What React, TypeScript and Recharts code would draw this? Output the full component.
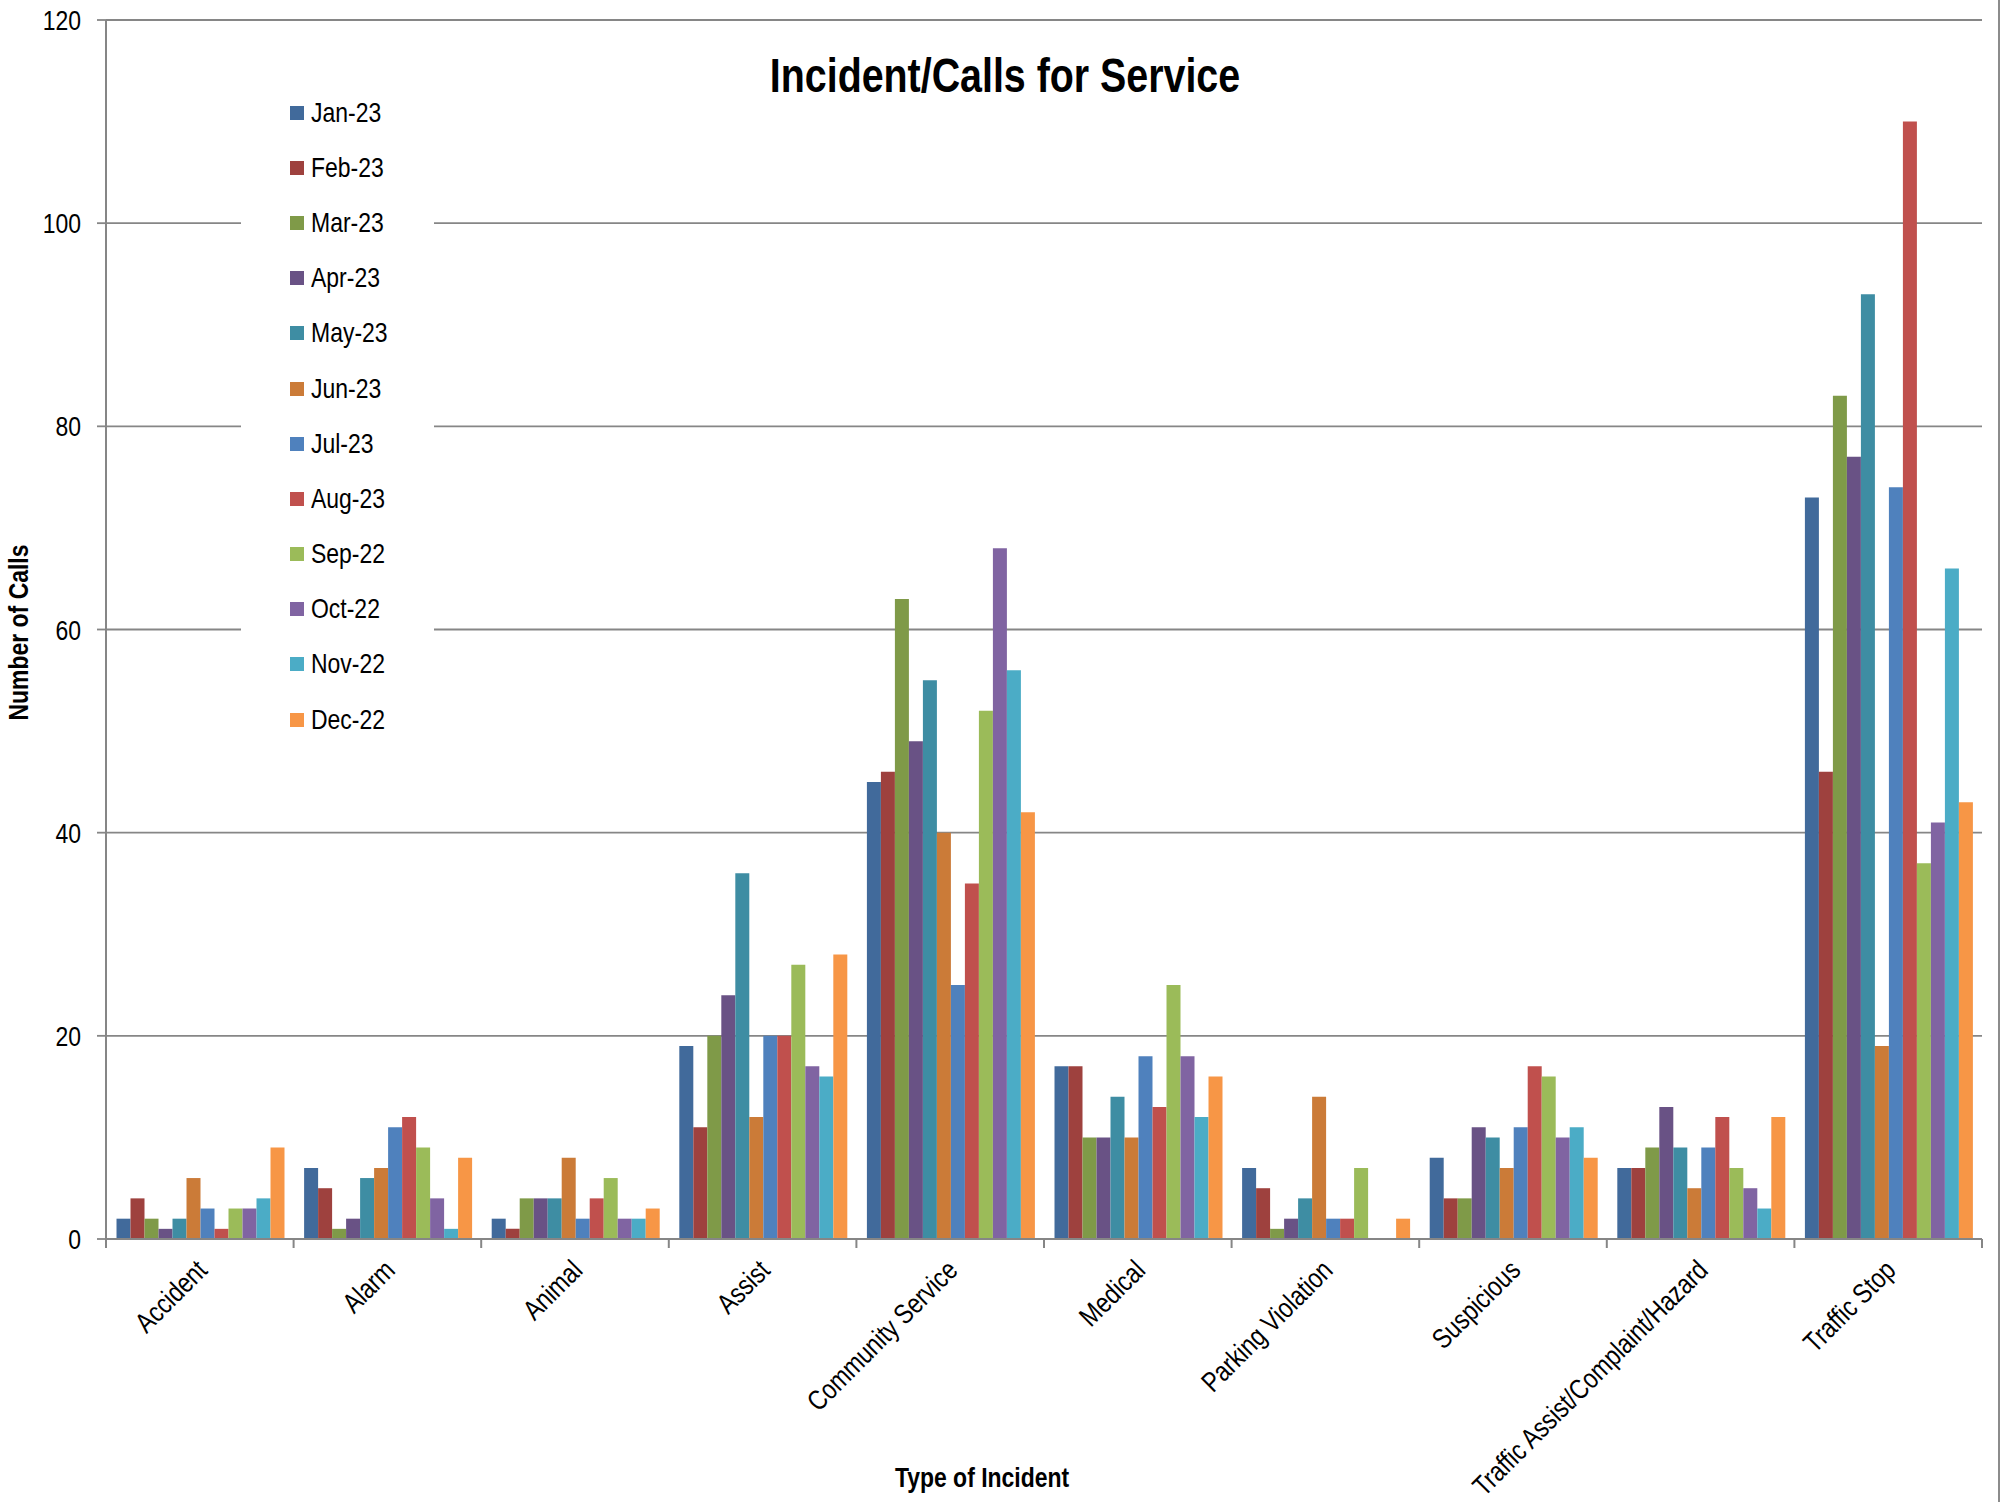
import React from "react";
import {
  BarChart, Bar, XAxis, YAxis, CartesianGrid, Label,
} from "recharts";

const categories = [
  "Accident", "Alarm", "Animal", "Assist", "Community Service",
  "Medical", "Parking Violation", "Suspicious",
  "Traffic Assist/Complaint/Hazard", "Traffic Stop",
];

// one array per month, in category order
const jan23 = [2, 7, 2, 19, 45, 17, 7, 8, 7, 73];
const feb23 = [4, 5, 1, 11, 46, 17, 5, 4, 7, 46];
const mar23 = [2, 1, 4, 20, 63, 10, 1, 4, 9, 83];
const apr23 = [1, 2, 4, 24, 49, 10, 2, 11, 13, 77];
const may23 = [2, 6, 4, 36, 55, 14, 4, 10, 9, 93];
const jun23 = [6, 7, 8, 12, 40, 10, 14, 7, 5, 19];
const jul23 = [3, 11, 2, 20, 25, 18, 2, 11, 9, 74];
const aug23 = [1, 12, 4, 20, 35, 13, 2, 17, 12, 110];
const sep22 = [3, 9, 6, 27, 52, 25, 7, 16, 7, 37];
const oct22 = [3, 4, 2, 17, 68, 18, 0, 10, 5, 41];
const nov22 = [4, 1, 2, 16, 56, 12, 0, 11, 3, 66];
const dec22 = [9, 8, 3, 28, 42, 16, 2, 8, 12, 43];

const yTicks = [0, 20, 40, 60, 80, 100, 120];

const series = [
  { key: "Jan-23", values: jan23, color: "#416A9B" },
  { key: "Feb-23", values: feb23, color: "#9E413E" },
  { key: "Mar-23", values: mar23, color: "#7F9A48" },
  { key: "Apr-23", values: apr23, color: "#695285" },
  { key: "May-23", values: may23, color: "#3E8DA3" },
  { key: "Jun-23", values: jun23, color: "#CB7B38" },
  { key: "Jul-23", values: jul23, color: "#4F81BD" },
  { key: "Aug-23", values: aug23, color: "#C0504D" },
  { key: "Sep-22", values: sep22, color: "#9BBB59" },
  { key: "Oct-22", values: oct22, color: "#8064A2" },
  { key: "Nov-22", values: nov22, color: "#4BACC6" },
  { key: "Dec-22", values: dec22, color: "#F79646" },
];

const data = categories.map((name, i) => {
  const row: Record<string, string | number> = { name };
  series.forEach((s) => { row[s.key] = s.values[i]; });
  return row;
});

// no narrow font installed, so squeeze Liberation Sans horizontally
const FONT = '"Liberation Sans", Arial, sans-serif';
const SX = 0.82;
const AXIS = "#868686";

// eslint-disable-next-line @typescript-eslint/no-explicit-any
function CategoryTick({ x, y, payload, index, width, visibleTicksCount }: any) {
  const band = width / (visibleTicksCount || categories.length);
  const left = x - band / 2;
  return (
    <g>
      <line x1={left} y1={y} x2={left} y2={y + 9} stroke={AXIS} strokeWidth={2} />
      {index === categories.length - 1 && (
        <line x1={x + band / 2} y1={y} x2={x + band / 2} y2={y + 9} stroke={AXIS} strokeWidth={2} />
      )}
      <text
        transform={`translate(${x + 9},${y + 33}) rotate(-45) scale(${SX},1)`}
        textAnchor="end"
        fontSize={28}
        fontFamily={FONT}
        fill="#000"
      >
        {payload.value}
      </text>
    </g>
  );
}

// eslint-disable-next-line @typescript-eslint/no-explicit-any
function ValueTick({ x, y, payload }: any) {
  return (
    <text
      transform={`translate(${x},${y}) scale(${SX},1)`}
      textAnchor="end"
      dy="0.36em"
      fontSize={28}
      fontFamily={FONT}
      fill="#000"
    >
      {payload.value}
    </text>
  );
}

function LegendBox() {
  return (
    <div
      style={{
        position: "absolute", left: 241, top: 85, width: 193, height: 665,
        background: "#fff",
      }}
    >
      {series.map((s) => (
        <div
          key={s.key}
          style={{ height: 55.2, display: "flex", alignItems: "center", paddingLeft: 49 }}
        >
          <span style={{ width: 14, height: 14, background: s.color, display: "inline-block" }} />
          <span
            style={{
              marginLeft: 7, fontFamily: FONT, fontSize: 28, color: "#000",
              display: "inline-block", transform: `scaleX(${SX})`, transformOrigin: "0 50%",
            }}
          >
            {s.key}
          </span>
        </div>
      ))}
    </div>
  );
}

export default function App() {
  return (
    <div
      style={{
        position: "absolute", left: 0, top: 0, width: 2007, height: 1502,
        background: "#fff", overflow: "hidden",
      }}
    >
      <BarChart
        width={2007}
        height={1502}
        data={data}
        margin={{ top: 20, right: 25, left: 0, bottom: 0 }}
        barCategoryGap="5.6%"
        barGap={0}
      >
        <CartesianGrid vertical={false} stroke={AXIS} strokeWidth={1.8} />
        <XAxis
          dataKey="name"
          interval={0}
          height={263}
          axisLine={{ stroke: AXIS, strokeWidth: 2 }}
          tickLine={false}
          tickSize={0}
          tickMargin={0}
          tick={<CategoryTick />}
        >
          <Label
            content={({ viewBox }: any) => (
              <text
                transform={`translate(${viewBox.x + viewBox.width / 2 - 62},${viewBox.y + 248}) scale(${SX},1)`}
                textAnchor="middle"
                fontSize={28}
                fontWeight="bold"
                fontFamily={FONT}
                fill="#000"
              >
                Type of Incident
              </text>
            )}
          />
        </XAxis>
        <YAxis
          width={106}
          domain={[0, 120]}
          ticks={yTicks}
          interval={0}
          axisLine={{ stroke: AXIS, strokeWidth: 2 }}
          tickLine={{ stroke: AXIS, strokeWidth: 1.8 }}
          tickSize={9}
          tickMargin={16}
          tick={<ValueTick />}
        >
          <Label
            content={({ viewBox }: any) => (
              <text
                transform={`translate(${viewBox.x + 18},${viewBox.y + viewBox.height / 2 + 3}) rotate(-90) scale(${SX},1)`}
                textAnchor="middle"
                dominantBaseline="central"
                fontSize={28}
                fontWeight="bold"
                fontFamily={FONT}
                fill="#000"
              >
                Number of Calls
              </text>
            )}
          />
        </YAxis>
        {series.map((s) => (
          <Bar key={s.key} dataKey={s.key} fill={s.color} isAnimationActive={false} />
        ))}
      </BarChart>
      <div
        style={{
          position: "absolute", left: 0, top: 52, width: 2010, textAlign: "center",
          fontFamily: FONT, fontWeight: "bold", fontSize: 48, lineHeight: "48px", color: "#000",
          transform: `scaleX(${SX})`, transformOrigin: "1005px 0",
        }}
      >
        Incident/Calls for Service
      </div>
      <LegendBox />
      <div style={{ position: "absolute", left: 1998, top: 0, width: 2, height: 1502, background: "#8c8c8c" }} />
    </div>
  );
}
